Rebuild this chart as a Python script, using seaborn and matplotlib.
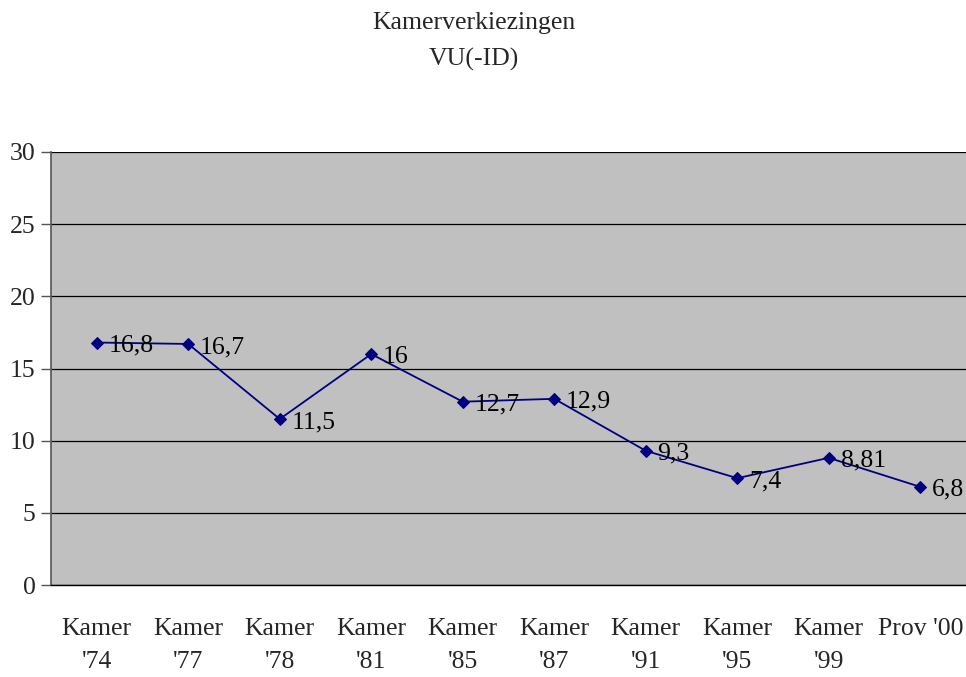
import matplotlib
matplotlib.use("Agg")
import matplotlib.pyplot as plt
import seaborn as sns
import pandas as pd
import numpy as np

categories = ["Kamer\n'74", "Kamer\n'77", "Kamer\n'78", "Kamer\n'81", "Kamer\n'85",
              "Kamer\n'87", "Kamer\n'91", "Kamer\n'95", "Kamer\n'99", "Prov '00"]
values = [16.8, 16.7, 11.5, 16.0, 12.7, 12.9, 9.3, 7.4, 8.81, 6.8]
value_labels = ["16,8", "16,7", "11,5", "16", "12,7", "12,9", "9,3", "7,4", "8,81", "6,8"]
y_ticks = [0, 5, 10, 15, 20, 25, 30]

sns.set_theme(style="white")
plt.rcParams['font.family'] = ['Liberation Serif', 'DejaVu Serif']

FS = 18.5

fig = plt.figure(figsize=(9.66, 6.77), dpi=100)
ax = fig.add_axes([51/966, 1-585/677, 915/966, (585-152)/677])
ax.set_facecolor("#C0C0C0")

df = pd.DataFrame({"cat": categories, "val": values})
sns.lineplot(data=df, x="cat", y="val", ax=ax, color="#000080", linewidth=1.3,
             marker="D", markersize=6, markeredgecolor="#000080", sort=False)

for i, (v, lab) in enumerate(zip(values, value_labels)):
    ax.annotate(lab, (i, v), xytext=(8.5, -6.5), textcoords="offset points",
                ha="left", va="baseline", fontsize=FS, color="black")

ax.set_xlim(-0.5, len(categories) - 0.5)
ax.set_ylim(0, 30)
ax.set_yticks(y_ticks)
ax.set_yticklabels([str(t) for t in y_ticks], fontsize=FS)
ax.yaxis.grid(True, color="black", linewidth=0.9)
ax.set_axisbelow(True)

ax.set_xticks(range(len(categories)))
ax.set_xticklabels(categories, fontsize=FS, linespacing=1.65)
ax.set_xticks(np.arange(-0.5, len(categories), 1), minor=True)
ax.tick_params(axis="x", which="major", length=0, pad=24)
ax.tick_params(axis="x", which="minor", length=7, width=1, color="black", direction="out")
ax.tick_params(axis="y", which="major", length=7, width=1, color="#555555", direction="out", pad=4, left=True)

ax.set_xlabel("")
ax.set_ylabel("")
for s in ["top", "right"]:
    ax.spines[s].set_visible(False)
ax.spines["left"].set_color("#555555")
ax.spines["bottom"].set_color("black")
ax.spines["left"].set_linewidth(1.2)
ax.spines["bottom"].set_linewidth(1)

fig.text(474/966, 1-23/677, "Kamerverkiezingen", ha="center", va="center", fontsize=FS)
fig.text(474/966, 1-59/677, "VU(-ID)", ha="center", va="center", fontsize=FS)

fig.savefig("out.png", dpi=100, facecolor="white")
